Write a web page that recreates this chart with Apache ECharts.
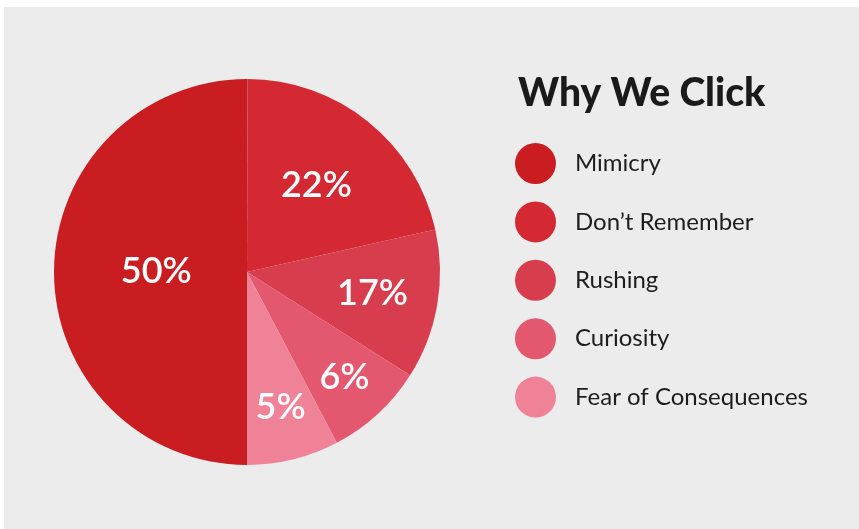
<!DOCTYPE html>
<html>
<head>
<meta charset="utf-8">
<script src="https://cdn.jsdelivr.net/npm/echarts@6/dist/echarts.min.js"></script>
<style>html,body{margin:0;padding:0;background:#fff}#c{width:859px;height:529px}</style>
</head>
<body>
<div id="c"></div>
<script>
// Categories (legend order)
const categories = ['Mimicry', 'Don\u2019t Remember', 'Rushing', 'Curiosity', 'Fear of Consequences'];
// Slice sizes as drawn in the picture (share of the circle, %)
const sliceValues = [50, 21.4, 12.5, 8.3, 7.7];
// Printed labels on the slices
const sliceLabels = ['50%', '22%', '17%', '6%', '5%'];

const colors = ['#C91D21', '#D42833', '#D83D4D', '#E3586F', '#F08298'];
const labelRadiusRatio = [0.47, 0.575, 0.66, 0.745, 0.725];
const R = 193, CX = 247, CY = 272;

const chart = echarts.init(document.getElementById('c'), null, {renderer: 'canvas'});

const baseData = categories.map((n, i) => ({name: n, value: sliceValues[i]}));

const series = [{
  type: 'pie',
  center: [CX, CY],
  radius: [0, R],
  startAngle: 270,
  clockwise: true,
  data: baseData.map((d, i) => ({...d, itemStyle: {color: colors[i]}})),
  label: {show: false},
  labelLine: {show: false},
  emphasis: {disabled: true}
}];

// transparent overlay pies, one per label, so each label sits at its own radius
categories.forEach((n, k) => {
  series.push({
    type: 'pie',
    silent: true,
    center: [CX, CY],
    radius: [0, 2 * labelRadiusRatio[k] * R - 6],
    startAngle: 270,
    clockwise: true,
    itemStyle: {color: 'rgba(0,0,0,0)'},
    labelLine: {show: false},
    emphasis: {disabled: true},
    data: baseData.map((d, i) => ({
      ...d,
      label: {
        show: i === k,
        position: 'inside',
        formatter: sliceLabels[i],
        color: '#ffffff',
        fontFamily: 'Lato',
        fontSize: 36,
        fontWeight: 600
      }
    }))
  });
});

chart.setOption({
  backgroundColor: '#ffffff',
  animation: false,
  graphic: [{
    type: 'rect', z: -10, silent: true,
    shape: {x: 4, y: 7, width: 859, height: 529},
    style: {fill: '#ECECEC'}
  }],
  title: {
    text: 'Why We Click',
    left: 513,
    top: 69,
    textStyle: {fontFamily: 'Lato', fontWeight: 900, fontSize: 39, color: '#1a1a1a'}
  },
  legend: {
    orient: 'vertical',
    left: 515,
    top: 143,
    padding: 0,
    icon: 'circle',
    itemWidth: 41,
    itemHeight: 41,
    itemGap: 17.4,
    data: categories,
    selectedMode: false,
    textStyle: {fontFamily: 'Lato', fontSize: 24, color: '#1d1d1d', padding: [0, 0, 0, 14]}
  },
  series: series
});
</script>
</body>
</html>
